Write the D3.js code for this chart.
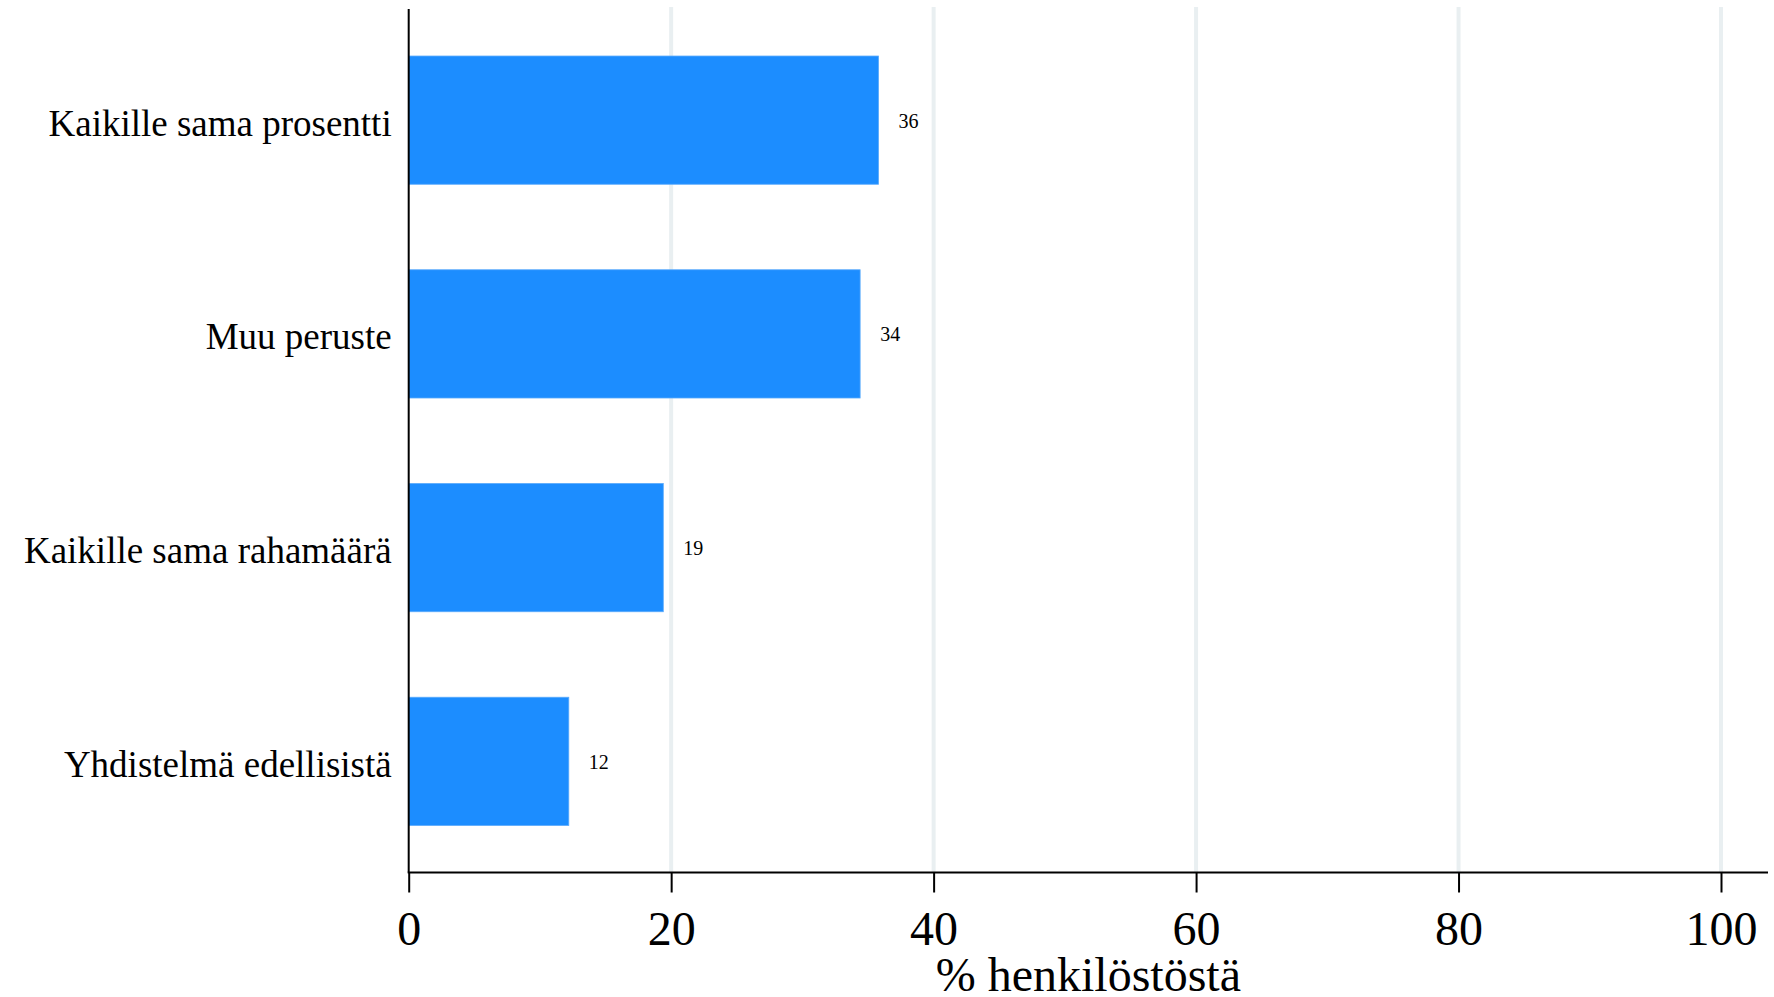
<!DOCTYPE html>
<html>
<head>
<meta charset="utf-8">
<script src="https://cdn.jsdelivr.net/npm/d3@7"></script>
<style>
  html, body { margin: 0; padding: 0; background: #fff; }
  svg { display: block; }
  text { font-family: "Liberation Serif", "Times New Roman", serif; fill: #000; }
</style>
</head>
<body>
<svg id="chart" width="1774" height="997"></svg>
<script>
const categories = ["Kaikille sama prosentti", "Muu peruste", "Kaikille sama rahamäärä", "Yhdistelmä edellisistä"];
const values = [35.8, 34.4, 19.4, 12.2];
const xTicks = [0, 20, 40, 60, 80, 100];
const xTitle = "% henkilöstöstä";

(function () {
const W = 1774, H = 997;
const mLeft = 408.7, mRight = 1721, mTop = 9, mBottom = 872.5, axisEnd = 1768;

const svg = d3.select("#chart");

const x = d3.scaleLinear().domain([0, 100]).range([mLeft, mRight]);
const y = d3.scaleBand().domain(categories).range([mTop, mBottom])
  .paddingInner(0.4).paddingOuter(0.22);

// gridlines
svg.append("g").selectAll("line").data(xTicks.filter(d => d > 0)).join("line")
  .attr("x1", d => x(d)).attr("x2", d => x(d))
  .attr("y1", 7).attr("y2", mBottom)
  .attr("stroke", "#e9eff1").attr("stroke-width", 4);

// bars
svg.append("g").selectAll("rect").data(values).join("rect")
  .attr("x", x(0))
  .attr("y", (d, i) => y(categories[i]))
  .attr("width", d => x(d) - x(0))
  .attr("height", y.bandwidth())
  .attr("fill", "#1c8dff")
  .attr("stroke", "#5aaafc").attr("stroke-width", 0.8);

// value labels
svg.append("g").selectAll("text").data(values).join("text")
  .attr("x", d => x(d) + 20)
  .attr("y", (d, i) => y(categories[i]) + y.bandwidth() / 2)
  .attr("dy", "0.38em")
  .attr("font-size", 20)
  .text(d => Math.round(d));

// category labels
svg.append("g").selectAll("text").data(categories).join("text")
  .attr("x", mLeft - 17)
  .attr("y", d => y(d) + y.bandwidth() / 2)
  .attr("dy", "0.42em")
  .attr("text-anchor", "end")
  .attr("font-size", 37)
  .text(d => d);

// y axis line
svg.append("line")
  .attr("x1", mLeft).attr("x2", mLeft)
  .attr("y1", mTop).attr("y2", mBottom)
  .attr("stroke", "#000").attr("stroke-width", 2);

// x axis
const xAxis = d3.axisBottom(x).tickValues(xTicks).tickSize(20).tickPadding(18).tickFormat(d3.format("d"));
const gx = svg.append("g").attr("transform", `translate(0,${mBottom})`).call(xAxis);
gx.select(".domain").remove();
gx.selectAll(".tick line").attr("stroke", "#000").attr("stroke-width", 2);
gx.selectAll(".tick text")
  .attr("font-family", "'Liberation Serif', 'Times New Roman', serif")
  .attr("font-size", 48).attr("fill", "#000");
gx.append("line")
  .attr("x1", mLeft - 1).attr("x2", axisEnd)
  .attr("y1", 0).attr("y2", 0)
  .attr("stroke", "#000").attr("stroke-width", 2);

// axis title
svg.append("text")
  .attr("x", (mLeft + axisEnd) / 2)
  .attr("y", 991)
  .attr("text-anchor", "middle")
  .attr("font-size", 48)
  .text(xTitle);
})();
</script>
</body>
</html>
